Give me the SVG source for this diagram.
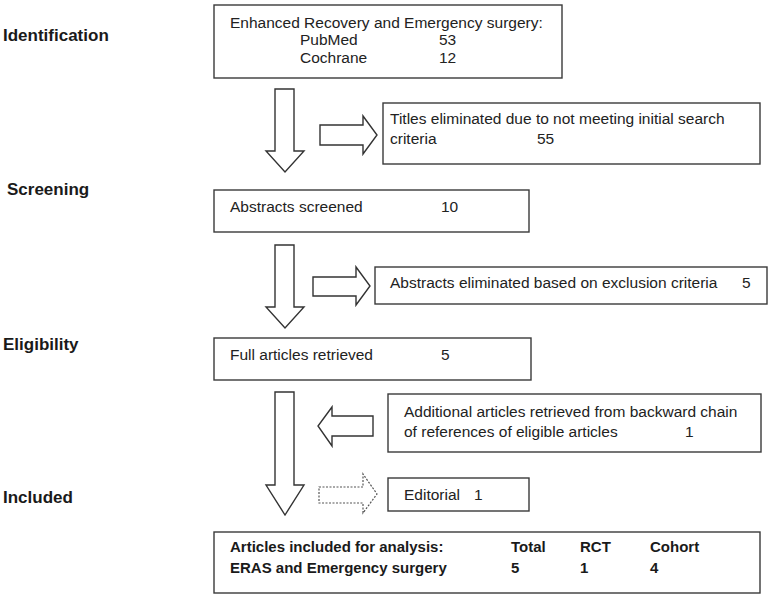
<svg xmlns="http://www.w3.org/2000/svg" width="771" height="598" viewBox="0 0 771 598">
<style>
.box{fill:#fff;stroke:#3a3a3a;stroke-width:1.4}
.t{font-family:"Liberation Sans",Arial,sans-serif;font-size:15.5px;fill:#222}
.b{font-family:"Liberation Sans",Arial,sans-serif;font-size:15px;font-weight:bold;fill:#1a1a1a}
.lab{font-family:"Liberation Sans",Arial,sans-serif;font-size:17px;font-weight:bold;fill:#1a1a1a}
.arr{fill:#fff;stroke:#333;stroke-width:1.4;stroke-linejoin:miter}
.dot{fill:#fff;stroke:#555;stroke-width:1.2;stroke-dasharray:2 1.5}
</style>
<rect width="771" height="598" fill="#fff"/>
<g id="labels">
<text class="lab" x="3" y="41">Identification</text>
<text class="lab" x="7" y="195">Screening</text>
<text class="lab" x="3" y="350">Eligibility</text>
<text class="lab" x="3" y="503">Included</text>
</g>
<g id="connectors">
<path class="arr" d="M275,89 H294 V151 H304 L285,172 L266,151 H275 Z"/>
<path class="arr" d="M320,125 H363 V116 L377,135 L363,154 V145 H320 Z"/>
<path class="arr" d="M275,245 H294 V307 H304 L285,328 L266,307 H275 Z"/>
<path class="arr" d="M313,277 H356 V267 L370,286 L356,305 V296 H313 Z"/>
<path class="arr" d="M275,392 H294 V485 H304 L285,515 L266,485 H275 Z"/>
<path class="arr" d="M373,416 V436 H332 V446 L318,426 L332,407 V416 Z"/>
<path class="dot" d="M319,487 H363 V474 L377,494 L363,513 V503 H319 Z"/>
</g>
<g id="identified">
<rect class="box" x="214" y="5" width="348" height="73"/>
<text class="t" x="230" y="28">Enhanced Recovery and Emergency surgery:</text>
<text class="t" x="300" y="45">PubMed</text>
<text class="t" x="439" y="45">53</text>
<text class="t" x="300" y="63">Cochrane</text>
<text class="t" x="439" y="63">12</text>
</g>
<g id="titles-eliminated">
<rect class="box" x="383" y="103" width="377" height="61"/>
<text class="t" x="390" y="124">Titles eliminated due to not meeting initial search</text>
<text class="t" x="390" y="144">criteria</text>
<text class="t" x="537" y="144">55</text>
</g>
<g id="abstracts-screened">
<rect class="box" x="214" y="190" width="315" height="42"/>
<text class="t" x="230" y="212">Abstracts screened</text>
<text class="t" x="441" y="212">10</text>
</g>
<g id="abstracts-eliminated">
<rect class="box" x="375" y="267" width="392" height="37"/>
<text class="t" x="390" y="288">Abstracts eliminated based on exclusion criteria</text>
<text class="t" x="742" y="288">5</text>
</g>
<g id="full-articles">
<rect class="box" x="214" y="338" width="317" height="42"/>
<text class="t" x="230" y="360">Full articles retrieved</text>
<text class="t" x="441" y="360">5</text>
</g>
<g id="additional">
<rect class="box" x="388" y="394" width="373" height="58"/>
<text class="t" x="404" y="417">Additional articles retrieved from backward chain</text>
<text class="t" x="404" y="437">of references of eligible articles</text>
<text class="t" x="685" y="437">1</text>
</g>
<g id="editorial">
<rect class="box" x="388" y="478" width="141" height="33"/>
<text class="t" x="404" y="500">Editorial</text>
<text class="t" x="474" y="500">1</text>
</g>
<g id="included">
<rect class="box" x="214" y="532" width="546" height="61"/>
<text class="b" x="230" y="552">Articles included for analysis:</text>
<text class="b" x="511" y="552">Total</text>
<text class="b" x="580" y="552">RCT</text>
<text class="b" x="650" y="552">Cohort</text>
<text class="b" x="230" y="573">ERAS and Emergency surgery</text>
<text class="b" x="511" y="573">5</text>
<text class="b" x="580" y="573">1</text>
<text class="b" x="650" y="573">4</text>
</g>
</svg>
